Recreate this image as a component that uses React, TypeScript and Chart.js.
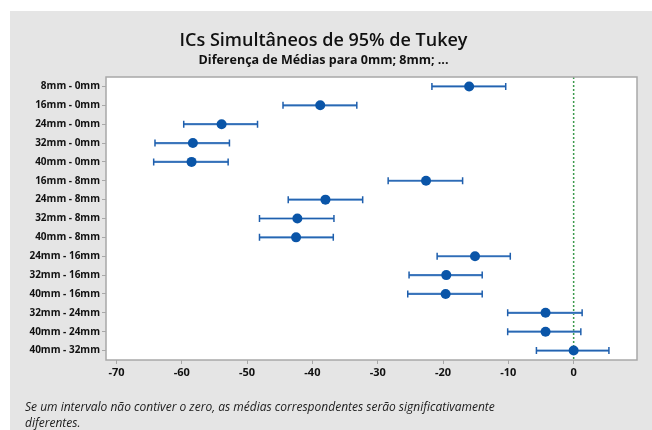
import React, { useEffect, useRef } from "react";
import { Chart, registerables } from "chart.js";

Chart.register(...registerables);

const comparisons = [
  "8mm - 0mm",
  "16mm - 0mm",
  "24mm - 0mm",
  "32mm - 0mm",
  "40mm - 0mm",
  "16mm - 8mm",
  "24mm - 8mm",
  "32mm - 8mm",
  "40mm - 8mm",
  "24mm - 16mm",
  "32mm - 16mm",
  "40mm - 16mm",
  "32mm - 24mm",
  "40mm - 24mm",
  "40mm - 32mm",
];
const centers = [-16.0, -38.8, -53.9, -58.3, -58.5, -22.6, -38.0, -42.3, -42.5, -15.1, -19.5, -19.6, -4.3, -4.3, 0.0];
const lowers = [-21.7, -44.5, -59.7, -64.1, -64.3, -28.4, -43.7, -48.1, -48.1, -20.9, -25.2, -25.4, -10.1, -10.1, -5.7];
const uppers = [-10.4, -33.2, -48.4, -52.7, -52.9, -17.0, -32.3, -36.7, -36.8, -9.7, -14.0, -14.0, 1.3, 1.1, 5.4];
const xTicks = [-70, -60, -50, -40, -30, -20, -10, 0];

const titleText = "ICs Simultâneos de 95% de Tukey";
const subtitleText = "Diferença de Médias para 0mm; 8mm; ...";
const footnoteLines = [
  "Se um intervalo não contiver o zero, as médias correspondentes serão significativamente",
  "diferentes.",
];

const FONT = "'Open Sans', 'Noto Sans', 'DejaVu Sans', sans-serif";

const framePlugin = {
  id: "frameAndIntervals",
  beforeDatasetsDraw(chart: any) {
    const { ctx, chartArea, scales } = chart;
    const { top, bottom } = chartArea;
    ctx.save();
    // zero reference line
    const x0 = scales.x.getPixelForValue(0);
    ctx.strokeStyle = "#3c9a4c";
    ctx.lineWidth = 1.5;
    ctx.setLineDash([2, 2]);
    ctx.beginPath();
    ctx.moveTo(x0, top);
    ctx.lineTo(x0, bottom);
    ctx.stroke();
    ctx.setLineDash([]);
    // intervals
    for (let i = 0; i < centers.length; i++) {
      const y = scales.y.getPixelForValue(i);
      const xl = scales.x.getPixelForValue(lowers[i]);
      const xr = scales.x.getPixelForValue(uppers[i]);
      ctx.strokeStyle = "#5b8fcb";
      ctx.lineWidth = 2.2;
      ctx.beginPath();
      ctx.moveTo(xl, y);
      ctx.lineTo(xr, y);
      ctx.stroke();
      ctx.strokeStyle = "#1f5fad";
      ctx.lineWidth = 1;
      ctx.beginPath();
      ctx.moveTo(xl, y);
      ctx.lineTo(xr, y);
      ctx.stroke();
      ctx.lineWidth = 1.5;
      ctx.beginPath();
      ctx.moveTo(xl, y - 3.5);
      ctx.lineTo(xl, y + 3.5);
      ctx.moveTo(xr, y - 3.5);
      ctx.lineTo(xr, y + 3.5);
      ctx.stroke();
    }
    ctx.restore();
  },
  beforeDraw(chart: any) {
    const { ctx, chartArea } = chart;
    const { left, top, right, bottom } = chartArea;
    ctx.save();
    ctx.fillStyle = "#ffffff";
    ctx.fillRect(left, top, right - left, bottom - top);
    ctx.restore();
  },
  afterDraw(chart: any) {
    const { ctx, chartArea } = chart;
    const { left, top, right, bottom } = chartArea;
    ctx.save();
    ctx.strokeStyle = "#a8a8a8";
    ctx.lineWidth = 1.5;
    ctx.strokeRect(left, top, right - left, bottom - top);
    ctx.fillStyle = "#1a1a1a";
    ctx.font = `italic 12px ${FONT}`;
    ctx.textBaseline = "middle";
    ctx.textAlign = "left";
    ctx.fillText(footnoteLines[0], 15, 397);
    ctx.fillText(footnoteLines[1], 15, 413);
    ctx.restore();
  },
};

export default function App() {
  const ref = useRef<HTMLCanvasElement | null>(null);
  useEffect(() => {
    if (!ref.current) return;
    const chart = new Chart(ref.current, {
      type: "scatter",
      data: {
        datasets: [
          {
            data: centers.map((c, i) => ({ x: c, y: i })),
            pointRadius: 5,
            pointHoverRadius: 5,
            pointBackgroundColor: "#0a55a8",
            pointBorderColor: "#0a55a8",
            pointBorderWidth: 0,
          },
        ],
      },
      options: {
        animation: false,
        responsive: false,
        maintainAspectRatio: false,
        layout: { padding: { left: 0, right: 15, top: 0, bottom: 48 } },
        plugins: {
          legend: { display: false },
          tooltip: { enabled: false },
          title: {
            display: true,
            text: titleText,
            color: "#111",
            font: { family: FONT, size: 18, weight: "600" },
            padding: { top: 19, bottom: 1 },
          },
          subtitle: {
            display: true,
            text: subtitleText,
            color: "#111",
            font: { family: FONT, size: 12.5, weight: "bold" },
            padding: { top: 0, bottom: 9.4 },
          },
        },
        scales: {
          x: {
            type: "linear",
            min: -71.6,
            max: 9.7,
            afterBuildTicks: (scale: any) => {
              scale.ticks = xTicks.map((v) => ({ value: v }));
            },
            afterFit: (scale: any) => {
              scale.height = 22;
            },
            grid: {
              drawOnChartArea: false,
              drawTicks: true,
              tickLength: 4,
              color: "#a8a8a8",
            },
            border: { display: false },
            ticks: {
              color: "#111",
              font: { family: FONT, size: 11, weight: "bold" },
              padding: 2,
              maxRotation: 0,
            },
          },
          y: {
            type: "linear",
            min: -0.5,
            max: 14.5,
            reverse: true,
            afterBuildTicks: (scale: any) => {
              scale.ticks = comparisons.map((_, i) => ({ value: i }));
            },
            afterFit: (scale: any) => {
              scale.width = 96;
            },
            grid: {
              drawOnChartArea: false,
              drawTicks: true,
              tickLength: 4,
              color: "#a8a8a8",
            },
            border: { display: false },
            ticks: {
              color: "#111",
              font: { family: FONT, size: 10, weight: "bold" },
              padding: 2,
              autoSkip: false,
              callback: (v: any) => comparisons[Math.round(Number(v))] ?? "",
            },
          },
        },
      },
      plugins: [framePlugin],
    });
    return () => chart.destroy();
  }, []);

  return (
    <div
      style={{
        position: "absolute",
        left: 10,
        top: 11,
        width: 642,
        height: 419,
        background: "#e5e5e5",
      }}
    >
      <canvas ref={ref} width={642} height={419} style={{ display: "block" }} />
    </div>
  );
}
